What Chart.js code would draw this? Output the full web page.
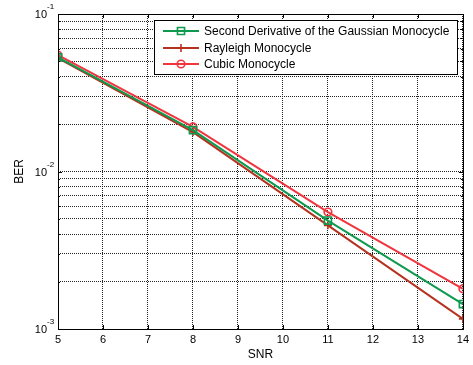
<!DOCTYPE html>
<html>
<head>
<meta charset="utf-8">
<script src="https://cdn.jsdelivr.net/npm/chart.js@4"></script>
<style>
  html, body { margin: 0; padding: 0; background: #fff; }
</style>
</head>
<body>
<canvas id="ber-chart" width="473" height="365"></canvas>
<script>
// values
const snr = [5, 8, 11, 14];
const berGaussian = [0.053, 0.0183, 0.00488, 0.00144];
const berRayleigh = [0.0525, 0.0178, 0.00455, 0.00116];
const berCubic = [0.0548, 0.0192, 0.00553, 0.0018];

const seriesNames = ["Second Derivative of the Gaussian Monocycle", "Rayleigh Monocycle", "Cubic Monocycle"];
const seriesColors = ["#0d9a4e", "#b5321f", "#f0353f"];

const xTicks = [5, 6, 7, 8, 9, 10, 11, 12, 13, 14];
const yGrid = [0.001, 0.002, 0.003, 0.004, 0.005, 0.006, 0.007, 0.008, 0.009,
               0.01, 0.02, 0.03, 0.04, 0.05, 0.06, 0.07, 0.08, 0.09, 0.1];
const yDecades = [0.1, 0.01, 0.001];
const yExponents = ["-1", "-2", "-3"];

const FONT = "'Liberation Sans', Arial, sans-serif";

// MATLAB style box, y labels with exponents, axis titles, legend
const matlabDecor = {
    id: "matlabDecor",
    afterDraw(chart) {
        const ctx = chart.ctx;
        const area = chart.chartArea;
        const yScale = chart.scales.y;
        const xScale = chart.scales.x;
        ctx.save();

        // axes box
        ctx.strokeStyle = "#000";
        ctx.lineWidth = 1;
        ctx.setLineDash([]);
        ctx.strokeRect(Math.round(area.left) + 0.5, Math.round(area.top) + 0.5,
            Math.round(area.right - area.left), Math.round(area.bottom - area.top));

        // small inward tick marks
        ctx.beginPath();
        xTicks.forEach((v) => {
            const x = Math.round(xScale.getPixelForValue(v)) + 0.5;
            ctx.moveTo(x, area.bottom); ctx.lineTo(x, area.bottom - 4);
            ctx.moveTo(x, area.top); ctx.lineTo(x, area.top + 4);
        });
        yGrid.forEach((v) => {
            const y = Math.round(yScale.getPixelForValue(v)) + 0.5;
            const len = yDecades.includes(v) ? 4 : 2;
            ctx.moveTo(area.left, y); ctx.lineTo(area.left + len, y);
            ctx.moveTo(area.right, y); ctx.lineTo(area.right - len, y);
        });
        ctx.stroke();

        // y tick labels 10^n
        ctx.fillStyle = "#000";
        ctx.textBaseline = "middle";
        yDecades.forEach((v, i) => {
            const y = yScale.getPixelForValue(v);
            ctx.font = "11px " + FONT;
            ctx.textAlign = "right";
            ctx.fillText("10", 47, y + 1);
            ctx.font = "8px " + FONT;
            ctx.textAlign = "left";
            ctx.fillText(yExponents[i], 47, y - 7);
        });

        // axis titles
        ctx.font = "12px " + FONT;
        ctx.textAlign = "center";
        ctx.fillText("SNR", (area.left + area.right) / 2, 355);
        ctx.save();
        ctx.translate(20, (area.top + area.bottom) / 2);
        ctx.rotate(-Math.PI / 2);
        ctx.fillText("BER", 0, 0);
        ctx.restore();

        // legend
        const lx = 154, ly = 20, lw = 303, lh = 54;
        ctx.fillStyle = "#fff";
        ctx.fillRect(lx, ly, lw, lh);
        ctx.strokeStyle = "#000";
        ctx.lineWidth = 1;
        ctx.strokeRect(lx + 0.5, ly + 0.5, lw, lh);
        const rows = [31, 48, 64];
        chart.data.datasets.forEach((ds, i) => {
            const y = rows[i];
            ctx.strokeStyle = ds.borderColor;
            ctx.lineWidth = 2;
            ctx.beginPath();
            ctx.moveTo(163, y);
            ctx.lineTo(199, y);
            ctx.stroke();
            ctx.fillStyle = "rgba(0,0,0,0)";
            ctx.lineWidth = ds.pointBorderWidth;
            Chart.helpers.drawPoint(ctx, {
                pointStyle: ds.pointStyle,
                radius: ds.pointRadius,
                rotation: 0,
                borderWidth: ds.pointBorderWidth
            }, 181, y);
            ctx.fillStyle = "#000";
            ctx.font = "12px " + FONT;
            ctx.textAlign = "left";
            ctx.textBaseline = "middle";
            ctx.fillText(ds.label, 204, y + 1);
        });

        ctx.restore();
    }
};

const makeSet = (label, values, color, style, radius) => ({
    label: label,
    data: snr.map((x, i) => ({ x: x, y: values[i] })),
    borderColor: color,
    backgroundColor: "rgba(0,0,0,0)",
    borderWidth: 2,
    pointStyle: style,
    pointRadius: radius,
    pointBorderWidth: 1.6,
    pointBorderColor: color,
    pointBackgroundColor: "rgba(0,0,0,0)",
    tension: 0,
});

new Chart(document.getElementById("ber-chart").getContext("2d"), {
    type: "line",
    data: {
        datasets: [
            makeSet(seriesNames[0], berGaussian, seriesColors[0], "rect", 5),
            makeSet(seriesNames[1], berRayleigh, seriesColors[1], "cross", 4),
            makeSet(seriesNames[2], berCubic, seriesColors[2], "circle", 3.8),
        ],
    },
    options: {
        responsive: false,
        animation: false,
        layout: { padding: { top: 14, right: 8, left: 0, bottom: 0 } },
        plugins: {
            legend: { display: false },
            tooltip: { enabled: false },
        },
        scales: {
            x: {
                type: "linear",
                min: 5,
                max: 14,
                afterBuildTicks: (scale) => { scale.ticks = xTicks.map((v) => ({ value: v })); },
                afterFit: (scale) => { scale.height = 36; },
                grid: { color: "#222", lineWidth: 1, drawTicks: false },
                border: { display: false, dash: [1, 1] },
                ticks: {
                    autoSkip: false,
                    maxRotation: 0,
                    padding: 4,
                    color: "#000",
                    font: { family: FONT, size: 11 },
                },
            },
            y: {
                type: "logarithmic",
                min: 0.001,
                max: 0.1,
                afterBuildTicks: (scale) => { scale.ticks = yGrid.map((v) => ({ value: v })); },
                afterFit: (scale) => { scale.width = 58; },
                grid: { color: "#222", lineWidth: 1, drawTicks: false },
                border: { display: false, dash: [1, 1] },
                ticks: { display: false, autoSkip: false },
            },
        },
    },
    plugins: [matlabDecor],
});
</script>
</body>
</html>
